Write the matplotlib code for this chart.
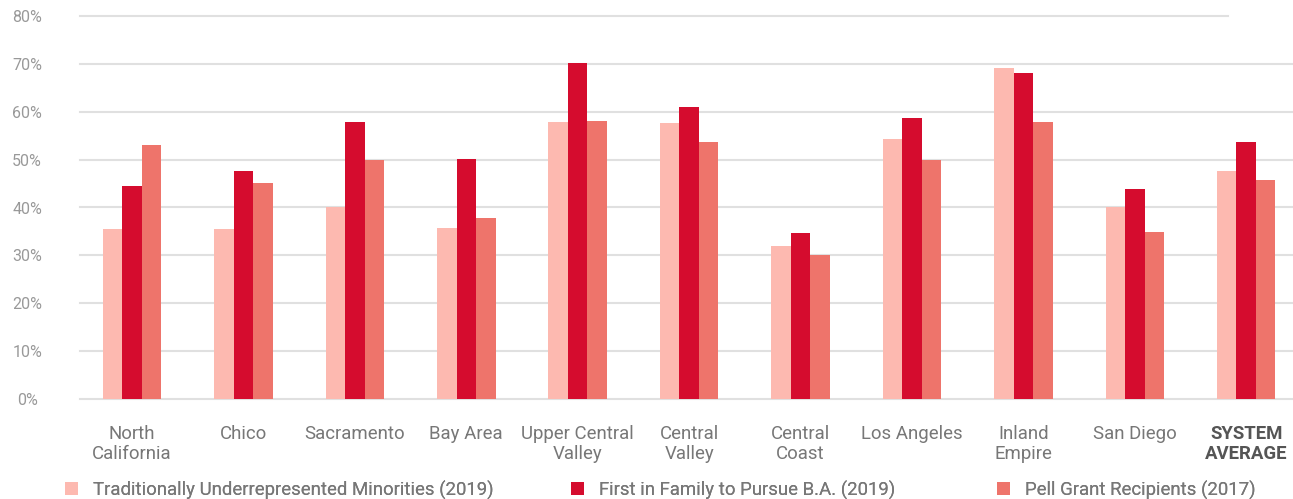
import matplotlib
matplotlib.use("Agg")
import matplotlib.pyplot as plt
import numpy as np
from matplotlib.patches import Patch

categories = ["North\nCalifornia", "Chico", "Sacramento", "Bay Area", "Upper Central\nValley",
              "Central\nValley", "Central\nCoast", "Los Angeles", "Inland\nEmpire", "San Diego",
              "SYSTEM\nAVERAGE"]
urm = [35.5, 35.5, 40.0, 35.7, 57.9, 57.6, 32.0, 54.3, 69.1, 40.0, 47.6]
first_gen = [44.5, 47.6, 57.9, 50.1, 70.2, 61.0, 34.7, 58.7, 68.1, 43.9, 53.7]
pell = [53.0, 45.1, 50.0, 37.8, 58.1, 53.7, 30.1, 50.0, 57.9, 34.9, 45.7]
series_names = ["Traditionally Underrepresented Minorities (2019)",
                "First in Family to Pursue B.A. (2019)",
                "Pell Grant Recipients (2017)"]
colors = ["#FDB9B0", "#D50C2E", "#EE746B"]
yticks = [0, 10, 20, 30, 40, 50, 60, 70, 80]

plt.rcParams['font.family'] = ['Roboto', 'DejaVu Sans']
fig = plt.figure(figsize=(12.93, 4.99), dpi=100)
ax = fig.add_axes([80/1293, 1 - 399/499, (1293-80)/1293, (399-16)/499])

x = np.arange(len(categories))
w = 0.175
for i, (vals, c) in enumerate(zip([urm, first_gen, pell], colors)):
    ax.bar(x + (i - 1) * w, vals, width=w, color=c, zorder=3, linewidth=0)

ax.set_xlim(-0.467, 10.42)
ax.set_ylim(0, 80)
for t in yticks[:-1]:
    ax.axhline(t, color="#E0E0E0", lw=1.5, zorder=1, clip_on=False)
ax.axhline(80, xmax=(9.84 + 0.467) / (10.42 + 0.467), color="#E0E0E0", lw=1.5, zorder=1, clip_on=False)

ax.set_yticks(yticks)
ax.set_yticklabels([f"{t}%" for t in yticks], color="#999999", fontsize=11.5)
ax.tick_params(axis='y', length=0, pad=38)
for l in ax.get_yticklabels():
    l.set_horizontalalignment('center')
ax.set_xticks(x)
ax.set_xticklabels(categories, color="#777777", fontsize=13.4, linespacing=1.12)
ax.tick_params(axis='x', length=0, pad=19)
lbls = ax.get_xticklabels()
lbls[-1].set_fontweight("bold")
lbls[-1].set_color("#555555")
for s in ax.spines.values():
    s.set_visible(False)

legend_x = [56, 562, 988]
for name, c, lx in zip(series_names, colors, legend_x):
    leg = fig.legend([Patch(facecolor=c, edgecolor='none')], [name], loc="center left",
                     bbox_to_anchor=(lx/1293, 1 - 490/499), frameon=False, fontsize=13.4,
                     handlelength=0.7, handleheight=0.7, handletextpad=0.8,
                     labelcolor="#777777", borderpad=0)
    fig.add_artist(leg)

fig.savefig("out.png", dpi=100)
